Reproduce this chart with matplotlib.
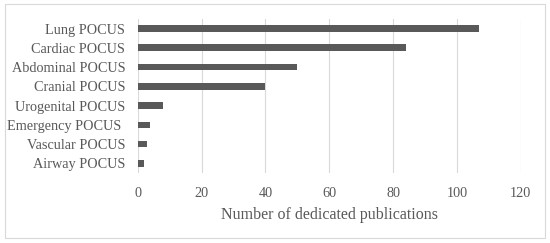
import matplotlib.pyplot as plt
from matplotlib.patches import Rectangle

categorias = ["Lung POCUS", "Cardiac POCUS", "Abdominal POCUS", "Cranial POCUS",
              "Urogenital POCUS", "Emergency POCUS ", "Vascular POCUS", "Airway POCUS"]
publicaciones = [107, 84, 50, 40, 8, 4, 3, 2]
ticks_x = [0, 20, 40, 60, 80, 100, 120]

plt.rcParams['font.family'] = ['Liberation Serif', 'DejaVu Serif']
GRIS = "#595959"

fig = plt.figure(figsize=(5.5, 2.43), dpi=100)
ax = fig.add_axes([0.2504, 0.288, 0.6963, 0.634])

pos = list(range(len(categorias)))
ax.barh(pos, publicaciones, height=0.35, color=GRIS, zorder=3)
ax.set_yticks(pos)
ax.set_yticklabels(categorias)
ax.set_ylim(len(categorias) - 0.5, -0.5)
ax.set_xlim(0, 120)
ax.set_xticks(ticks_x)
ax.grid(axis="x", color="#d9d9d9", lw=0.8, zorder=0)
ax.tick_params(length=0, labelsize=10.3, colors=GRIS)
ax.tick_params(axis="y", pad=9)
ax.tick_params(axis="x", pad=10)
for s in ax.spines.values():
    s.set_visible(False)
ax.set_xlabel("Number of dedicated publications", fontsize=11.5, color=GRIS, labelpad=5)

fig.patches.append(Rectangle((0.009, 0.02), 0.982, 0.963, transform=fig.transFigure,
                             fill=False, edgecolor="#d9d9d9", lw=0.8))

fig.savefig("out.png", dpi=100)
